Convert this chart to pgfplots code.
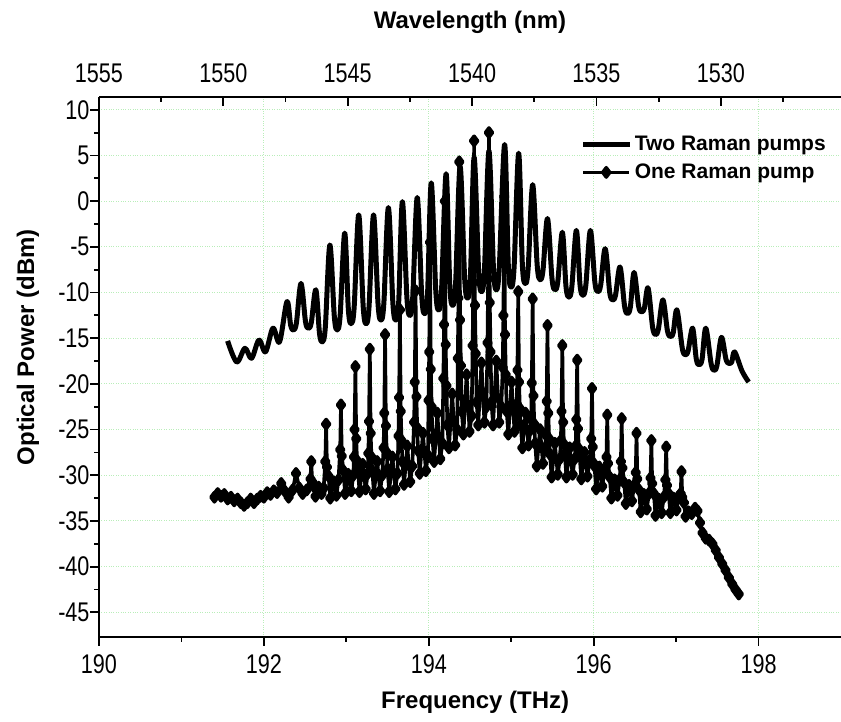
\documentclass[border=0pt]{standalone}
\usepackage{fontspec}
\setmainfont{Liberation Sans}
\newfontfamily\tickfont[FakeStretch=0.8]{Liberation Sans}
\usepackage{pgfplots}
\pgfplotsset{compat=1.18}
\definecolor{gridgreen}{RGB}{185,238,185}
\begin{document}
\begin{tikzpicture}
\path[use as bounding box] (0,0) rectangle (841pt,722pt);
\begin{axis}[
  at={(99pt,85pt)}, anchor=south west,
  scale only axis, width=742pt, height=540pt,
  xmin=190, xmax=199, ymin=-47.7, ymax=11.4,
  axis x line*=bottom, axis y line*=left,
  axis line style={line width=2.2pt, -},
  xtick={190,192,...,198}, minor xtick={191,193,...,197},
  ytick={-45,-40,...,10}, minor ytick={-42.5,-37.5,...,7.5},
  tick align=outside,
  major tick length=9pt, minor tick length=5pt,
  every tick/.style={black, line width=1.8pt},
  grid=major, major grid style={gridgreen, dotted, line width=1pt},
  ticklabel style={font=\tickfont\fontsize{27}{30}\selectfont},
  xticklabel style={yshift=-5pt},
  yticklabel style={xshift=3pt},
  /pgf/number format/assume math mode=true,
  /pgf/number format/1000 sep={},
  xlabel={Frequency (THz)}, ylabel={Optical Power (dBm)},
  label style={font=\bfseries\fontsize{24}{28}\selectfont},
  x label style={at={(axis description cs:0.507,0)}, anchor=center, yshift=-65pt},
  y label style={at={(axis description cs:-0.0957,0.537)}, anchor=center},
  legend style={at={(axis description cs:0.649,0.933)}, anchor=north west, draw=none, fill=none,
    font=\bfseries\fontsize{21}{24}\selectfont, row sep=6pt, inner sep=0pt, nodes={inner sep=3pt}},
  legend cell align=left,
  legend image code/.code={\draw[mark repeat=2,mark phase=2,#1] plot coordinates {(0pt,0pt) (23pt,0pt) (46pt,0pt)};},
]
\addplot[black, line width=5pt, line join=round, smooth, tension=0.55] coordinates {
(191.56,-15.3) (191.67,-17.6) (191.77,-16.1) (191.85,-17.2) (191.94,-15.2) (192.02,-16.5)
(192.11,-13.9) (192.19,-15.4) (192.28,-11.0)
(192.325,-13.6) (192.36,-14.1) (192.395,-13.3) (192.45,-9.0)
(192.505,-13.2) (192.54,-13.9) (192.575,-13.3) (192.63,-9.7)
(192.675,-14.5) (192.71,-15.4) (192.745,-13.8) (192.80,-4.8)
(192.855,-12.7) (192.89,-14.1) (192.925,-12.5) (192.98,-3.5)
(193.025,-11.9) (193.06,-13.4) (193.095,-11.6) (193.15,-1.5)
(193.205,-11.6) (193.24,-13.4) (193.275,-11.6) (193.33,-1.5)
(193.385,-11.3) (193.42,-13.0) (193.455,-11.2) (193.51,-0.7)
(193.565,-11.2) (193.60,-13.0) (193.635,-11.1) (193.68,-0.05)
(193.735,-10.6) (193.77,-12.5) (193.805,-10.6) (193.86,0.4)
(193.915,-10.4) (193.95,-12.3) (193.985,-10.2) (194.03,2.0)
(194.085,-9.8) (194.12,-11.9) (194.155,-9.7) (194.21,3.0)
(194.255,-9.2) (194.29,-11.4) (194.325,-9.1) (194.38,3.8)
(194.435,-8.4) (194.47,-10.6) (194.505,-8.3) (194.55,4.8)
(194.605,-7.7) (194.64,-9.9) (194.675,-7.6) (194.73,5.5)
(194.785,-7.4) (194.82,-9.7) (194.855,-7.3) (194.92,6.2)
(194.965,-7.1) (195.00,-9.4) (195.035,-7.2) (195.09,5.25)
(195.135,-6.9) (195.17,-9.0) (195.205,-7.4) (195.26,1.8)
(195.315,-7.0) (195.35,-8.6) (195.385,-7.6) (195.44,-1.9)
(195.495,-8.5) (195.53,-9.7) (195.565,-8.8) (195.62,-3.4)
(195.665,-9.4) (195.70,-10.5) (195.735,-9.4) (195.79,-3.2)
(195.835,-9.2) (195.87,-10.3) (195.905,-9.2) (195.96,-3.2)
(196.015,-8.9) (196.05,-9.9) (196.085,-9.2) (196.14,-5.2)
(196.195,-10.0) (196.23,-10.8) (196.265,-10.3) (196.32,-7.2)
(196.375,-11.5) (196.41,-12.3) (196.445,-11.6) (196.49,-7.8)
(196.545,-11.5) (196.58,-12.1) (196.615,-11.7) (196.66,-9.5)
(196.715,-13.8) (196.75,-14.6) (196.785,-14.0) (196.84,-10.8)
(196.895,-14.2) (196.93,-14.8) (196.965,-14.4) (197.01,-11.9)
(197.075,-16.1) (197.11,-16.8) (197.145,-16.4) (197.20,-13.9)
(197.245,-17.3) (197.28,-17.9) (197.315,-17.3) (197.36,-13.9)
(197.425,-17.8) (197.46,-18.5) (197.495,-18.0) (197.55,-14.9)
(197.605,-17.3) (197.64,-17.75) (197.675,-17.6) (197.71,-16.5)
(197.80,-18.6) (197.88,-19.8)
};
\addlegendentry{Two Raman pumps}
\addplot[black, line width=3.6pt, line join=round, mark=diamond*, mark size=4.6pt, mark options={solid}] coordinates {
(191.40,-32.4) (191.44,-32.0) (191.48,-32.3) (191.52,-32.1) (191.56,-32.6) (191.60,-32.4)
(191.64,-32.8) (191.68,-32.6) (191.72,-33.0) (191.76,-33.3) (191.80,-33.0) (191.84,-32.6)
(191.88,-33.0) (191.92,-32.6) (191.96,-32.3) (192.00,-32.4) (192.04,-31.9) (192.08,-32.1)
(192.12,-31.7) (192.16,-31.9) (192.21,-30.9) (192.25,-31.7) (192.30,-32.4) (192.35,-31.6)
(192.39,-29.8) (192.43,-31.4) (192.47,-32.0) (192.52,-31.6)
(192.565,-30.4) (192.575,-28.5) (192.585,-30.7) (192.605,-31.2) (192.625,-32.3) (192.664,-31.3) (192.700,-32.0) (192.725,-31.4)
(192.745,-28.5) (192.755,-24.4) (192.765,-29.1) (192.785,-30.1) (192.805,-32.5) (192.844,-30.7) (192.880,-32.2) (192.905,-30.5)
(192.925,-27.2) (192.935,-22.3) (192.945,-27.9) (192.965,-29.5) (192.985,-32.0) (193.024,-29.9) (193.060,-31.7) (193.085,-30.0)
(193.092,-28.0) (193.100,-25.0) (193.110,-18.1) (193.120,-26.0) (193.130,-28.4) (193.140,-29.3) (193.160,-31.8) (193.199,-28.8) (193.235,-31.5) (193.260,-29.8)
(193.267,-27.6) (193.275,-24.1) (193.285,-16.2) (193.295,-25.4) (193.305,-28.0) (193.315,-29.5) (193.335,-32.0) (193.374,-28.5) (193.410,-31.7) (193.435,-30.0)
(193.452,-27.0) (193.460,-23.2) (193.470,-14.6) (193.480,-24.6) (193.490,-27.5) (193.500,-29.3) (193.520,-31.8) (193.559,-28.0) (193.595,-31.5) (193.620,-29.8)
(193.632,-25.7) (193.640,-21.5) (193.650,-11.9) (193.660,-23.0) (193.670,-26.2) (193.680,-28.5) (193.700,-31.0) (193.739,-26.8) (193.775,-30.7) (193.800,-29.0)
(193.822,-24.2) (193.830,-19.8) (193.840,-9.8) (193.850,-21.4) (193.860,-24.8) (193.870,-27.3) (193.890,-29.8) (193.929,-25.4) (193.965,-29.5) (193.990,-27.8)
(193.997,-21.8) (194.005,-16.5) (194.015,-4.5) (194.025,-18.4) (194.035,-22.5) (194.045,-26.0) (194.065,-28.5) (194.104,-23.2) (194.140,-28.2) (194.165,-26.5)
(194.177,-19.4) (194.185,-13.5) (194.195,0.0) (194.205,-15.7) (194.215,-20.2) (194.225,-24.5) (194.245,-27.0) (194.284,-21.1) (194.320,-26.7) (194.345,-25.0)
(194.352,-17.2) (194.360,-10.6) (194.370,4.3) (194.380,-13.0) (194.390,-18.0) (194.400,-23.0) (194.420,-25.5) (194.459,-19.0) (194.495,-25.2) (194.520,-23.5)
(194.532,-15.8) (194.540,-8.9) (194.550,6.6) (194.560,-11.4) (194.570,-16.7) (194.580,-22.0) (194.600,-24.5) (194.639,-17.7) (194.675,-24.2) (194.700,-22.5)
(194.712,-15.5) (194.720,-8.5) (194.730,7.5) (194.740,-11.1) (194.750,-16.5) (194.760,-22.0) (194.780,-24.5) (194.819,-17.5) (194.855,-24.2) (194.880,-22.5)
(194.897,-18.2) (194.905,-12.5) (194.915,0.5) (194.925,-14.6) (194.935,-19.0) (194.945,-23.0) (194.965,-25.5) (195.004,-19.8) (195.040,-25.2) (195.065,-23.5)
(195.067,-22.2) (195.075,-18.5) (195.085,-9.9) (195.095,-19.8) (195.105,-22.7) (195.115,-24.5) (195.135,-27.0) (195.174,-23.2) (195.210,-26.7) (195.235,-25.0)
(195.242,-23.9) (195.250,-19.9) (195.260,-10.7) (195.270,-21.3) (195.280,-24.4) (195.290,-26.5) (195.310,-29.0) (195.349,-25.0) (195.385,-28.7) (195.410,-27.0)
(195.422,-25.6) (195.430,-21.9) (195.440,-13.6) (195.450,-23.2) (195.460,-26.0) (195.470,-27.7) (195.490,-30.2) (195.529,-26.5) (195.565,-29.9) (195.590,-28.2)
(195.602,-26.2) (195.610,-23.0) (195.620,-15.8) (195.630,-24.2) (195.640,-26.6) (195.650,-27.7) (195.670,-30.2) (195.709,-27.0) (195.745,-29.9) (195.770,-28.2)
(195.782,-26.8) (195.790,-23.9) (195.800,-17.4) (195.810,-24.9) (195.820,-27.1) (195.830,-27.9) (195.850,-30.4) (195.889,-27.5) (195.925,-30.1) (195.950,-28.4)
(195.962,-28.4) (195.970,-26.0) (195.980,-20.5) (195.990,-26.9) (196.000,-28.7) (196.010,-29.0) (196.030,-31.5) (196.069,-29.1) (196.105,-31.2) (196.130,-29.5)
(196.155,-28.0) (196.165,-23.4) (196.175,-28.7) (196.195,-30.2) (196.215,-32.5) (196.254,-30.5) (196.290,-32.2) (196.315,-30.5)
(196.330,-28.5) (196.340,-23.8) (196.350,-29.2) (196.370,-30.8) (196.390,-33.1) (196.429,-31.1) (196.465,-32.8) (196.490,-31.1)
(196.510,-29.7) (196.520,-25.4) (196.530,-30.4) (196.550,-31.6) (196.570,-34.0) (196.609,-32.1) (196.645,-33.7) (196.670,-32.0)
(196.690,-30.3) (196.700,-26.2) (196.710,-30.9) (196.730,-32.0) (196.750,-34.4) (196.789,-32.6) (196.825,-34.1) (196.850,-32.4)
(196.870,-30.5) (196.880,-26.9) (196.890,-31.1) (196.910,-32.0) (196.930,-34.1) (196.969,-32.5) (197.005,-33.8) (197.030,-32.3)
(197.055,-32.0) (197.065,-29.6) (197.075,-32.4) (197.095,-33.0) (197.115,-34.5)
(197.15,-34.0) (197.19,-34.2) (197.23,-33.6) (197.26,-33.9) (197.29,-35.2) (197.32,-36.3)
(197.36,-36.9) (197.40,-37.1) (197.44,-37.5) (197.48,-38.2) (197.52,-39.0) (197.56,-39.7)
(197.60,-40.4) (197.64,-41.2) (197.68,-41.9) (197.72,-42.5) (197.76,-43.0)
};
\addlegendentry{One Raman pump}
\end{axis}
\begin{axis}[
  at={(99pt,85pt)}, anchor=south west,
  scale only axis, width=742pt, height=540pt,
  xmin=1525.17, xmax=1555, x dir=reverse, ymin=0, ymax=1,
  axis x line*=top, axis y line=none,
  axis line style={line width=2.2pt, -},
  xtick={1530,1535,...,1555}, minor xtick={1527.5,1532.5,...,1552.5},
  tick align=inside,
  major tick length=9pt, minor tick length=5pt,
  every tick/.style={black, line width=1.8pt},
  ticklabel style={font=\tickfont\fontsize{27}{30}\selectfont},
  xticklabel style={yshift=11pt},
  /pgf/number format/assume math mode=true,
  /pgf/number format/1000 sep={},
  xlabel={Wavelength (nm)},
  label style={font=\bfseries\fontsize{24}{28}\selectfont},
  x label style={at={(axis description cs:0.5,1)}, anchor=center, yshift=75pt},
]
\addplot[draw=none] coordinates {(1540,0.5)};
\end{axis}
\end{tikzpicture}
\end{document}
